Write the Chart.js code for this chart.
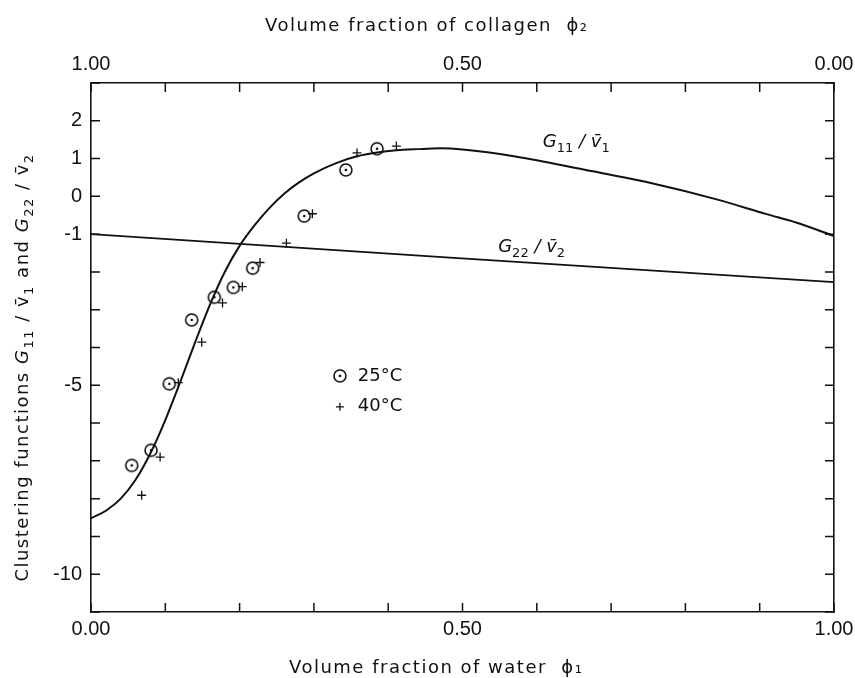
<!DOCTYPE html>
<html><head><meta charset="utf-8">
<script src="https://cdn.jsdelivr.net/npm/chart.js@4/dist/chart.umd.min.js"></script>
<style>html,body{margin:0;padding:0;background:#fff;}#wrap{width:855px;height:678px;}</style>
</head><body><div id="wrap"><canvas id="c" width="855" height="678"></canvas></div>
<script>
// ---- data ----
const phiCurve = [0, 0.02, 0.04, 0.06, 0.08, 0.1, 0.12, 0.14, 0.16, 0.18, 0.2, 0.22, 0.24, 0.26, 0.28, 0.3, 0.33, 0.358, 0.385, 0.411, 0.44, 0.47, 0.5, 0.573, 0.663, 0.752, 0.842, 0.909, 0.95, 1.0];
const g11Curve = [-8.52, -8.32, -8.0, -7.5, -6.8, -5.92, -4.92, -3.87, -2.87, -2.0, -1.31, -0.77, -0.31, 0.07, 0.37, 0.61, 0.88, 1.06, 1.16, 1.22, 1.25, 1.27, 1.24, 1.05, 0.71, 0.36, -0.08, -0.47, -0.7, -1.05];
const phiG22 = [0, 0.483, 1.0];
const g22Curve = [-1.0, -1.62, -2.27];
const phi25 = [0.0548, 0.0808, 0.1054, 0.1355, 0.166, 0.1916, 0.2176, 0.287, 0.343, 0.385];
const g25 = [-7.12, -6.72, -4.96, -3.27, -2.67, -2.41, -1.90, -0.52, 0.70, 1.26];
const phi40 = [0.0682, 0.093, 0.1175, 0.149, 0.177, 0.2036, 0.2275, 0.263, 0.298, 0.358, 0.411];
const g40 = [-7.91, -6.90, -4.93, -3.86, -2.82, -2.39, -1.75, -1.24, -0.46, 1.15, 1.33];

const xLabelValues = [0, 0.5, 1];
const xTickLabels = ['0.00', '0.50', '1.00'];
const topLabelValues = [1, 0.5, 0];
const topTickLabels = ['1.00', '0.50', '0.00'];
const yLabelValues = [2, 1, 0, -1, -5, -10];
const yTickLabels = ['2', '1', '0', '-1', '-5', '-10'];

const xTitle = 'Volume fraction of water  \u03d5\u2081';
const topTitle = 'Volume fraction of collagen  \u03d5\u2082';
const legendLabels = ['25\u00b0C', '40\u00b0C'];

// ---- helpers ----
const INK = '#111';
const pts = (xs, ys) => xs.map((x, i) => ({x, y: ys[i]}));
function circleDot() {
  const c = document.createElement('canvas'); c.width = 16; c.height = 16;
  const g = c.getContext('2d');
  g.strokeStyle = '#000'; g.lineWidth = 1.5;
  g.beginPath(); g.arc(8, 8, 6, 0, Math.PI * 2); g.stroke();
  g.fillStyle = '#000'; g.beginPath(); g.arc(8, 8, 1.3, 0, Math.PI * 2); g.fill();
  return c;
}
const circImg = circleDot();
const labelCb = (vals, labs) => (v) => {
  const i = vals.findIndex(a => Math.abs(a - v) < 1e-6);
  return i >= 0 ? labs[i] : '';
};
const FONT = '"DejaVu Sans", sans-serif';
function drawRich(ctx, segs, x, y, size, align) {
  const parts = segs.map(([t, st]) => {
    const sub = st.includes('s');
    const f = (st.includes('i') ? 'italic ' : '') + (sub ? Math.round(size * 0.72) : size) + 'px ' + FONT;
    ctx.font = f;
    return {t, f, sub, w: ctx.measureText(t).width};
  });
  const total = parts.reduce((a, p) => a + p.w, 0);
  let cx = align === 'center' ? x - total / 2 : x;
  parts.forEach(p => {
    ctx.font = p.f;
    ctx.fillText(p.t, cx, p.sub ? y + size * 0.28 : y);
    cx += p.w;
  });
}

const decor = {
  id: 'decor',
  afterDraw(chart) {
    const {ctx, chartArea: a, scales} = chart;
    const {x, y, x2} = scales;
    ctx.save();
    // inward tick marks
    ctx.strokeStyle = INK; ctx.lineWidth = 1.5;
    const L = 9;
    ctx.beginPath();
    x.ticks.forEach(t => { const p = x.getPixelForValue(t.value); ctx.moveTo(p, a.bottom); ctx.lineTo(p, a.bottom - L); });
    x2.ticks.forEach(t => { const p = x2.getPixelForValue(t.value); ctx.moveTo(p, a.top); ctx.lineTo(p, a.top + L); });
    y.ticks.forEach(t => { const p = y.getPixelForValue(t.value);
      ctx.moveTo(a.left, p); ctx.lineTo(a.left + L, p);
      ctx.moveTo(a.right, p); ctx.lineTo(a.right - L, p); });
    ctx.stroke();

    ctx.fillStyle = INK; ctx.textBaseline = 'alphabetic'; ctx.textAlign = 'left';
    ctx.letterSpacing = '1.5px';
    // axis titles
    ctx.font = '18px ' + FONT;
    ctx.fillText(xTitle, a.left + 198, 673);
    ctx.fillText(topTitle, a.left + 174, 31);
    // y title (rotated)
    ctx.save();
    ctx.translate(28, (a.top + a.bottom) / 2 + 20);
    ctx.rotate(-Math.PI / 2);
    drawRich(ctx, [['Clustering functions ', 'n'], ['G', 'i'], ['11', 's'], [' / ', 'n'], ['v\u0304', 'n'], ['1', 's'],
      [' and ', 'n'], ['G', 'i'], ['22', 's'], [' / ', 'n'], ['v\u0304', 'n'], ['2', 's']], 0, 0, 18, 'center');
    ctx.restore();
    ctx.letterSpacing = '0px';
    // curve labels
    drawRich(ctx, [['G', 'i'], ['11', 's'], [' / ', 'i'], ['v\u0304', 'i'], ['1', 's']], x.getPixelForValue(0.608), y.getPixelForValue(1.3), 18, 'left');
    drawRich(ctx, [['G', 'i'], ['22', 's'], [' / ', 'i'], ['v\u0304', 'i'], ['2', 's']], x.getPixelForValue(0.548), y.getPixelForValue(-1.48), 18, 'left');
    // legend
    const lx = x.getPixelForValue(0.335), tx = x.getPixelForValue(0.359);
    const ly1 = y.getPixelForValue(-4.75), ly2 = y.getPixelForValue(-5.57);
    ctx.drawImage(circImg, lx - 8, ly1 - 8);
    ctx.lineWidth = 1.3;
    ctx.beginPath(); ctx.moveTo(lx - 4, ly2); ctx.lineTo(lx + 4, ly2); ctx.moveTo(lx, ly2 - 4); ctx.lineTo(lx, ly2 + 4); ctx.stroke();
    ctx.font = '18px ' + FONT; ctx.textBaseline = 'middle';
    ctx.fillText(legendLabels[0], tx, ly1);
    ctx.fillText(legendLabels[1], tx, ly2);
    ctx.restore();
  }
};

const tickFont = {family: '"Liberation Sans", Arial, sans-serif', size: 20};
const border = {display: true, color: INK, width: 1.6};
const noPad = s => { s.paddingLeft = 0; s.paddingRight = 0; s.paddingTop = 0; s.paddingBottom = 0; };

new Chart(document.getElementById('c'), {
  type: 'scatter',
  data: {
    datasets: [
      {label: 'G11/v1', data: pts(phiCurve, g11Curve), showLine: true, borderColor: INK, borderWidth: 2, pointRadius: 0, cubicInterpolationMode: 'monotone', fill: false},
      {label: 'G22/v2', data: pts(phiG22, g22Curve), showLine: true, borderColor: INK, borderWidth: 1.8, pointRadius: 0, tension: 0, fill: false},
      {label: legendLabels[0], data: pts(phi25, g25), showLine: false, pointStyle: circImg, pointRadius: 6},
      {label: legendLabels[1], data: pts(phi40, g40), showLine: false, pointStyle: 'cross', pointRadius: 4.5, borderColor: INK, borderWidth: 1.3}
    ]
  },
  options: {
    responsive: false, animation: false, devicePixelRatio: 1,
    layout: {padding: 0},
    plugins: {legend: {display: false}, tooltip: {enabled: false}},
    scales: {
      x: {type: 'linear', position: 'bottom', min: 0, max: 1,
        ticks: {stepSize: 0.1, autoSkip: false, maxRotation: 0, padding: 5, color: INK, font: tickFont, callback: labelCb(xLabelValues, xTickLabels)},
        grid: {display: false, drawTicks: false}, border,
        afterFit: s => { s.height = 66; noPad(s); }},
      x2: {type: 'linear', position: 'top', min: 0, max: 1, reverse: true,
        ticks: {stepSize: 0.1, autoSkip: false, maxRotation: 0, padding: 7, color: INK, font: tickFont, callback: labelCb(topLabelValues, topTickLabels)},
        grid: {display: false, drawTicks: false}, border,
        afterFit: s => { s.height = 83; noPad(s); }},
      y: {type: 'linear', position: 'left', min: -11, max: 3,
        ticks: {stepSize: 1, autoSkip: false, padding: 9, color: INK, font: tickFont, callback: labelCb(yLabelValues, yTickLabels)},
        grid: {display: false, drawTicks: false}, border,
        afterFit: s => { s.width = 91; noPad(s); }},
      y2: {type: 'linear', position: 'right', min: -11, max: 3,
        ticks: {display: false, stepSize: 1},
        grid: {display: false, drawTicks: false}, border,
        afterFit: s => { s.width = 21; noPad(s); }}
    }
  },
  plugins: [decor]
});
</script>
</body></html>
